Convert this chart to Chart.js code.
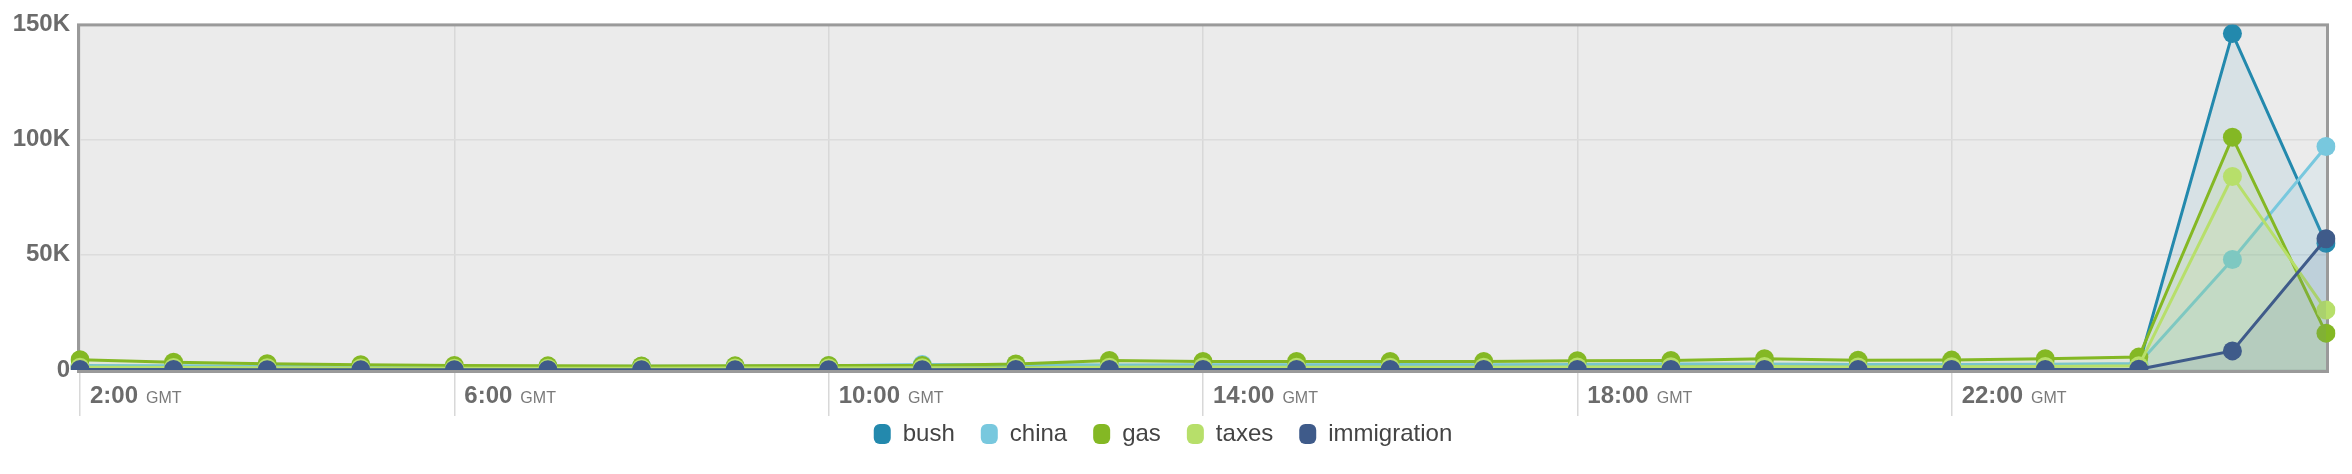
<!DOCTYPE html>
<html>
<head>
<meta charset="utf-8">
<script src="https://cdn.jsdelivr.net/npm/chart.js@4"></script>
<style>
  html, body { margin: 0; padding: 0; background: #fff; }
  #wrap { width: 2352px; height: 474px; }
</style>
</head>
<body>
<div id="wrap"><canvas id="topicChart" width="2352" height="474"></canvas></div>
<script>
// ---- DATA ----
const hours = ['2:00','3:00','4:00','5:00','6:00','7:00','8:00','9:00','10:00','11:00','12:00','13:00',
  '14:00','15:00','16:00','17:00','18:00','19:00','20:00','21:00','22:00','23:00','0:00','1:00','2:00'];
const tzLabel = 'GMT';
const yTicks = [0, 50000, 100000, 150000];

const bush = [1500, 1300, 1100, 1000, 900, 900, 900, 1000, 1000, 1100, 1200, 1400, 1500,
  1500, 1400, 1400, 1600, 1700, 1800, 1600, 1600, 1800, 2200, 146000, 55000];
const china = [2000, 1800, 1600, 1400, 1300, 1500, 1600, 1600, 1800, 2400, 2400, 2200, 2300,
  2300, 2400, 2300, 2400, 2600, 2600, 2400, 2400, 2500, 2800, 48000, 97000];
const gas = [4500, 3400, 2700, 2300, 2000, 1800, 1700, 1800, 2000, 2000, 2600, 4100, 3700,
  3700, 3700, 3700, 4000, 4100, 4900, 4200, 4300, 4900, 5600, 101000, 16000];
const taxes = [1200, 1100, 1000, 900, 800, 800, 800, 900, 900, 1000, 1000, 1200, 1300,
  1200, 1200, 1200, 1300, 1400, 1500, 1300, 1400, 1500, 1800, 84000, 26000];
const immigration = [200, 200, 150, 150, 150, 150, 150, 150, 150, 150, 200, 200, 200,
  200, 200, 200, 200, 200, 200, 200, 200, 250, 300, 8300, 57000];

const FONT = '"Liberation Sans", Arial, Helvetica, sans-serif';

function series(label, data, color, fill, order) {
  return {
    label: label,
    data: data,
    borderColor: color,
    backgroundColor: fill,
    pointBackgroundColor: color,
    pointBorderWidth: 0,
    pointRadius: 9.5,
    pointHoverRadius: 9.5,
    borderWidth: 3,
    tension: 0,
    fill: 'origin',
    order: order
  };
}

// plot background + frame
const plotFrame = {
  id: 'plotFrame',
  beforeDraw(chart) {
    const a = chart.chartArea, c = chart.ctx;
    c.save();
    c.fillStyle = '#ebebeb';
    c.fillRect(a.left - 2, a.top, a.right - a.left + 4, a.bottom - a.top + 1);
    c.restore();
  },
  beforeDatasetsDraw(chart) {
    const a = chart.chartArea, c = chart.ctx;
    c.save();
    c.strokeStyle = '#9a9a9a';
    c.lineWidth = 3;
    c.strokeRect(a.left - 1.5, a.top + 0.5, a.right - a.left + 3, a.bottom - a.top + 1);
    c.restore();
  }
};

// "2:00 GMT" style labels under every 4th hour
const hourLabels = {
  id: 'hourLabels',
  afterDraw(chart) {
    const xs = chart.scales.x, c = chart.ctx;
    c.save();
    c.textBaseline = 'alphabetic';
    c.textAlign = 'left';
    hours.forEach((h, i) => {
      if (i % 4 !== 0 || i === hours.length - 1) return;
      const x = xs.getPixelForValue(i) + 10;
      c.font = 'bold 24px ' + FONT;
      c.fillStyle = '#6b6b6b';
      c.fillText(h, x, 403);
      const w = c.measureText(h).width;
      c.font = '16px ' + FONT;
      c.fillStyle = '#7a7a7a';
      c.fillText(tzLabel, x + w + 8, 403);
    });
    c.restore();
  }
};

const ctx = document.getElementById('topicChart').getContext('2d');
new Chart(ctx, {
  type: 'line',
  data: {
    labels: hours,
    datasets: [
      series('bush', bush, '#2389ad', 'rgba(35,137,173,0.10)', 4),
      series('china', china, '#78c8de', 'rgba(120,200,222,0.10)', 3),
      series('gas', gas, '#84b824', 'rgba(132,184,36,0.10)', 2),
      series('taxes', taxes, '#b7df6a', 'rgba(183,223,106,0.10)', 1),
      series('immigration', immigration, '#3f5b8a', 'rgba(63,91,138,0.10)', 0)
    ]
  },
  options: {
    responsive: false,
    animation: false,
    layout: { padding: { top: 24, right: 26, bottom: 18, left: 0 } },
    plugins: {
      tooltip: { enabled: false },
      legend: {
        position: 'bottom',
        labels: {
          font: { family: FONT, size: 24 },
          color: '#444',
          boxWidth: 17,
          boxHeight: 20,
          padding: 26,
          useBorderRadius: true,
          borderRadius: 6,
          sort: (a, b) => a.datasetIndex - b.datasetIndex,
          generateLabels(chart) {
            const items = Chart.defaults.plugins.legend.labels.generateLabels(chart);
            items.forEach(it => {
              const ds = chart.data.datasets[it.datasetIndex];
              it.fillStyle = ds.borderColor;
              it.strokeStyle = ds.borderColor;
              it.lineWidth = 0;
            });
            return items;
          }
        }
      }
    },
    scales: {
      x: {
        ticks: { display: false },
        border: { display: false },
        grid: {
          color: c => (c.index % 4 === 0 && c.index < hours.length - 1 ? '#d8d8d8' : 'rgba(0,0,0,0)'),
          lineWidth: 1.5,
          drawTicks: true,
          tickLength: 46
        },
        afterFit: s => { s.height = 26; }
      },
      y: {
        min: 0,
        max: 150000,
        afterBuildTicks: s => { s.ticks = yTicks.map(v => ({ value: v })); },
        ticks: {
          padding: 10,
          color: '#6b6b6b',
          font: { family: FONT, size: 24, weight: 'bold' },
          callback: v => (v === 0 ? '0' : (v / 1000) + 'K')
        },
        border: { display: false },
        grid: { color: '#dcdcdc', lineWidth: 1.5, drawTicks: false },
        afterFit: s => { s.width = 80; }
      }
    }
  },
  plugins: [plotFrame, hourLabels]
});
</script>
</body>
</html>
